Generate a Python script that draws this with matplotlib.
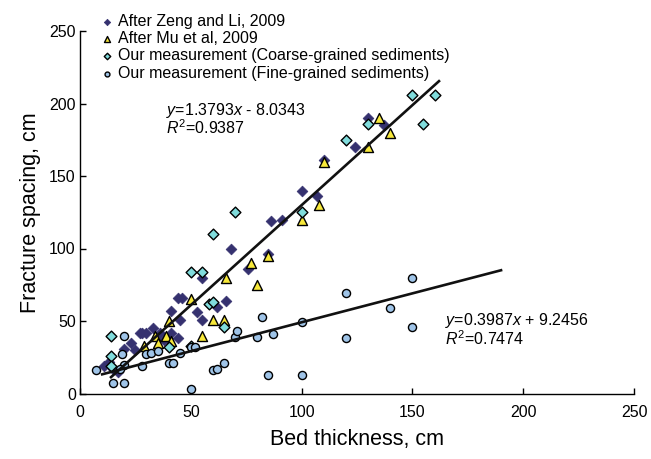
import matplotlib
matplotlib.use("Agg")
import matplotlib.pyplot as plt
import numpy as np

plt.rcParams['font.family'] = ['Liberation Sans', 'DejaVu Sans']
plt.rcParams['mathtext.fontset'] = 'custom'
plt.rcParams['mathtext.rm'] = 'Liberation Sans'
plt.rcParams['mathtext.it'] = 'Liberation Sans:italic'

# ---- data ----
zeng_x = [11, 13, 15, 17, 20, 23, 25, 27, 28, 30, 33, 36, 38, 41, 41, 44, 44, 46, 45,
          53, 55, 55, 62, 66, 68, 76, 85, 86, 91, 100, 107, 110, 124, 130, 137]
zeng_y = [19, 22, 17, 15, 31, 35, 30, 42, 42, 42, 45, 42, 37, 42, 57, 38, 66, 66, 51,
          56, 51, 80, 60, 64, 100, 86, 96, 119, 120, 140, 136, 161, 170, 190, 185]

mu_x = [29, 34, 35, 39, 40, 41, 50, 55, 60, 65, 66, 77, 80, 85, 100, 108, 110, 130, 135, 140]
mu_y = [33, 40, 35, 40, 50, 36, 65, 40, 51, 51, 80, 90, 75, 95, 120, 130, 160, 170, 190, 180]

coarse_x = [14, 14, 14, 40, 50, 50, 55, 58, 60, 60, 65, 70, 100, 120, 130, 150, 155, 160]
coarse_y = [40, 26, 19, 32, 33, 84, 84, 62, 63, 110, 46, 125, 125, 175, 186, 206, 186, 206]

fine_x = [7, 15, 20, 19, 20, 18, 20, 28, 30, 32, 35, 40, 42, 45, 50, 50, 52, 60, 62, 65,
          70, 71, 80, 82, 85, 87, 100, 100, 120, 120, 140, 150, 150]
fine_y = [16, 7, 7, 27, 20, 17, 40, 19, 27, 28, 29, 21, 21, 28, 3, 32, 32, 16, 17, 21,
          39, 43, 39, 53, 13, 41, 49, 13, 69, 38, 59, 80, 46]

coarse_fit = (1.3793, -8.0343)
coarse_fit_range = [14, 162]
fine_fit = (0.3987, 9.2456)
fine_fit_range = [10, 190]

labels = ["After Zeng and Li, 2009", "After Mu et al, 2009",
          "Our measurement (Coarse-grained sediments)",
          "Our measurement (Fine-grained sediments)"]

# ---- figure ----
fig = plt.figure(figsize=(6.51, 4.59), dpi=100)
ax = fig.add_axes([80/651, 1-393.5/459, (634-80)/651, (393.5-31)/459])

navy = "#35316f"
yellow = "#f7e83a"
cyan = "#80dcdc"
lblue = "#9fc4e8"

ax.scatter(zeng_x, zeng_y, marker='D', s=30, c=navy, edgecolors=navy, linewidths=0.5,
           label=labels[0], zorder=3)
ax.scatter(mu_x, mu_y, marker='^', s=52, c=yellow, edgecolors='black', linewidths=1.0,
           label=labels[1], zorder=4)
ax.scatter(coarse_x, coarse_y, marker='D', s=30, c=cyan, edgecolors='black', linewidths=1.0,
           label=labels[2], zorder=5)
ax.scatter(fine_x, fine_y, marker='o', s=34, c=lblue, edgecolors='black', linewidths=1.0,
           label=labels[3], zorder=6)

xs = np.array(coarse_fit_range, dtype=float)
ax.plot(xs, coarse_fit[0]*xs + coarse_fit[1], color='#111111', lw=1.9, zorder=7)
xs = np.array(fine_fit_range, dtype=float)
ax.plot(xs, fine_fit[0]*xs + fine_fit[1], color='#111111', lw=1.9, zorder=7)

ax.set_xlim(0, 250)
ax.set_ylim(0, 250)
ax.set_xticks([0, 50, 100, 150, 200, 250])
ax.set_yticks([0, 50, 100, 150, 200, 250])
ax.spines['top'].set_visible(False)
ax.spines['right'].set_visible(False)
for sp in ['left', 'bottom']:
    ax.spines[sp].set_linewidth(1.0)
ax.tick_params(direction='in', length=4, width=1.0, labelsize=11.5)
ax.tick_params(axis='y', pad=3)
ax.tick_params(axis='x', pad=8)

ax.set_xlabel("Bed thickness, cm", fontsize=15.5, labelpad=7)
ax.set_ylabel("Fracture spacing, cm", fontsize=15.5, labelpad=6)

fig.text(166/651, 1-110/459, r"$\mathit{y}$=1.3793$\mathit{x}$ - 8.0343", fontsize=11.5,
         va='center', ha='left')
fig.text(166/651, 1-128/459, r"$\mathit{R}^{2}$=0.9387", fontsize=11.5, va='center', ha='left')
fig.text(445/651, 1-320/459, r"$\mathit{y}$=0.3987$\mathit{x}$ + 9.2456", fontsize=11.5,
         va='center', ha='left')
fig.text(445/651, 1-339/459, r"$\mathit{R}^{2}$=0.7474", fontsize=11.5, va='center', ha='left')

leg = fig.legend(loc='upper left', bbox_to_anchor=(102/651, 1-14/459), frameon=False,
                 fontsize=11.5, markerscale=0.6, handlelength=0.6, handletextpad=0.4,
                 labelspacing=0.14, borderpad=0, borderaxespad=0, scatterpoints=1)

fig.savefig("out.png", dpi=100)
